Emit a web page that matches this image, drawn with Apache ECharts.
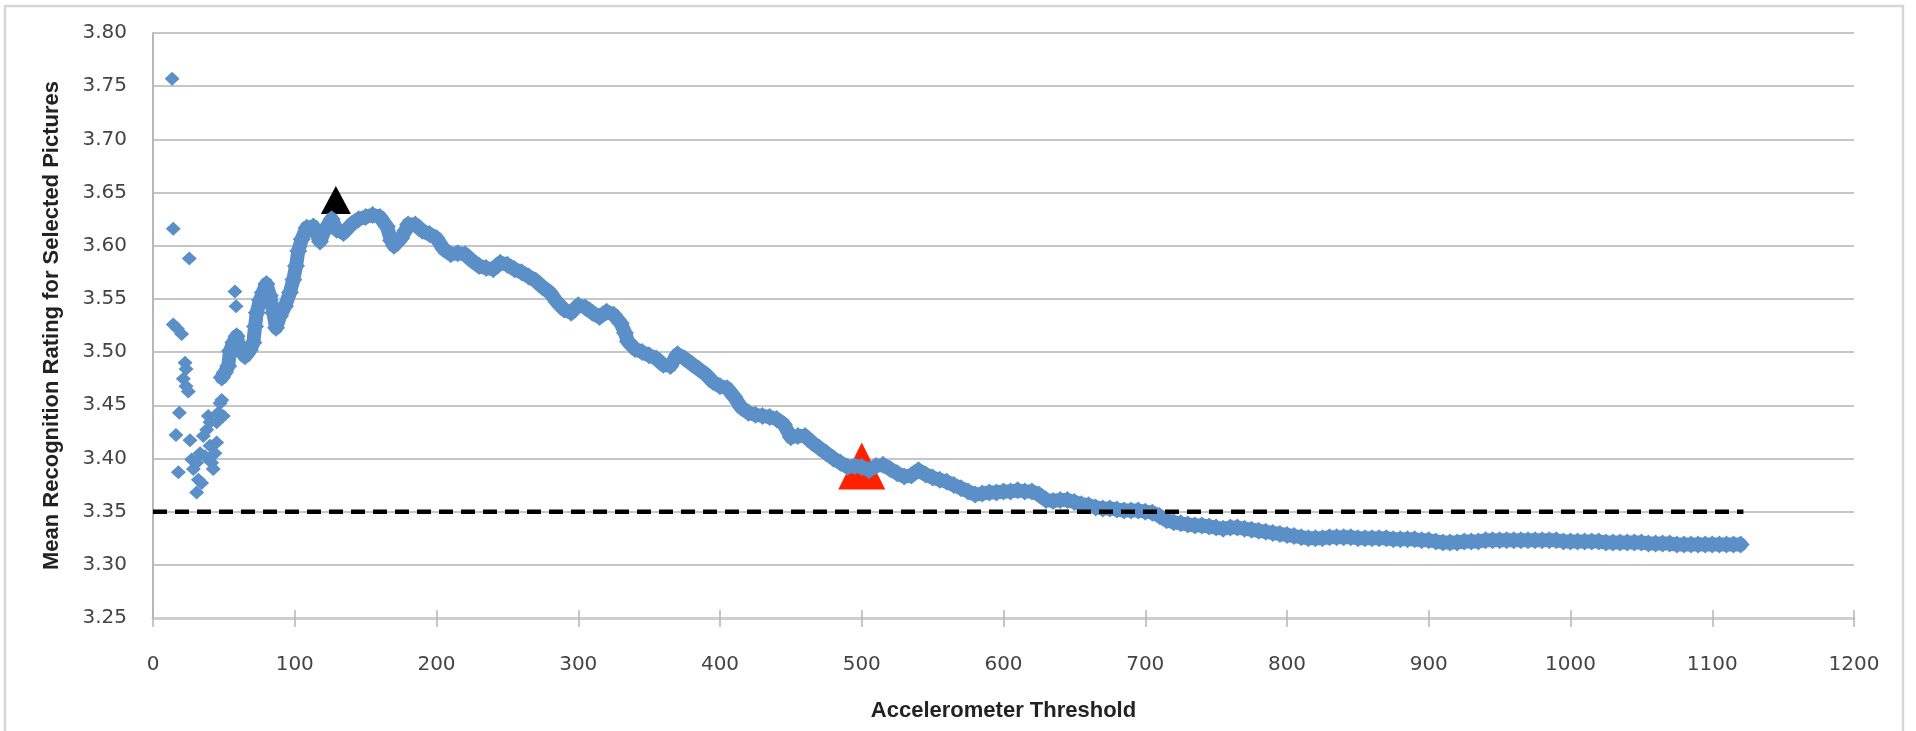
<!DOCTYPE html>
<html>
<head>
<meta charset="UTF-8">
<title>Mean Recognition Rating vs Accelerometer Threshold</title>
<script src="https://cdn.jsdelivr.net/npm/echarts@6/dist/echarts.min.js"></script>
<style>
html, body {
    margin: 0;
    padding: 0;
    background: #fff;
}
#chart {
    width: 1916px;
    height: 731px;
}
</style>
</head>
<body>
<div id="chart"></div>
<script>
// axis ranges
var xMin = 0, xMax = 1200, xStep = 100;
var yMin = 3.25, yMax = 3.80, yStep = 0.05;

// scattered early thresholds
var earlyX = [13.5, 14.3, 14.3, 16.2, 17.2, 17.9, 18.6, 20.2, 21.4, 22.6, 23.3, 23.3, 24.9, 25.6,
    26.1, 27.3, 28.5, 30.8, 30.8, 32.0, 33.2, 34.3, 35.5, 36.7, 37.9, 39.0, 40.2, 40.2,
    41.4, 42.5, 43.7, 44.9, 44.9, 46.1, 47.3, 48.5, 49.6, 57.8, 58.6];
var earlyY = [3.757, 3.616, 3.526, 3.422, 3.522, 3.387, 3.443, 3.517, 3.475, 3.490, 3.484, 3.468, 3.463, 3.588,
    3.417, 3.399, 3.390, 3.396, 3.368, 3.380, 3.405, 3.377, 3.421, 3.402, 3.427, 3.440, 3.412, 3.434,
    3.396, 3.390, 3.405, 3.415, 3.434, 3.443, 3.452, 3.455, 3.440, 3.557, 3.543];

// main band
var bandX = [48.5, 50.8, 53.1, 54.3, 56.7, 59.0, 61.4, 64.9, 68.4, 70.8, 72.0, 73.2, 75.5, 77.5, 80.0,
    82.5, 84.9, 86.8, 89.6, 93.1, 96.6, 99.0, 100.9, 102.5, 104.9, 108.4, 113.1, 117.8, 121.3, 126.0,
    129.6, 134.3, 140, 145, 150, 155, 160, 165, 168, 170, 175, 178, 180, 185, 190, 195,
    200, 205, 210, 215, 220, 225, 230, 235, 240, 245, 250, 255, 260, 265, 270, 275, 280, 285, 290, 295,
    300, 305, 310, 315, 320, 325, 330, 333, 335, 340, 345, 350, 355, 360, 365, 370, 375, 380, 385, 390, 395,
    400, 405, 410, 415, 420, 425, 430, 435, 440, 445, 450, 455, 460, 465, 470, 475, 480, 485, 490, 495,
    500, 505, 510, 515, 520, 525, 530, 535, 540, 545, 550, 555, 560, 565, 570, 575, 580, 585, 590, 595,
    600, 605, 610, 615, 620, 625, 630, 635, 640, 645, 650, 655, 660, 665, 670, 675, 680, 685, 690, 695,
    700, 705, 710, 715, 720, 725, 730, 735, 740, 745, 750, 755, 760, 765, 770, 775, 780, 785, 790, 795,
    800, 805, 810, 815, 820, 825, 830, 835, 840, 845, 850, 855, 860, 865, 870, 875, 880, 885, 890, 895,
    900, 905, 910, 915, 920, 925, 930, 935, 940, 945, 950, 955, 960, 965, 970, 975, 980, 985, 990, 995,
    1000, 1005, 1010, 1015, 1020, 1025, 1030, 1035, 1040, 1045, 1050, 1055, 1060, 1065, 1070, 1075,
    1080, 1085, 1090, 1095, 1100, 1105, 1110, 1115, 1120];
var bandY = [3.476, 3.481, 3.487, 3.501, 3.509, 3.515, 3.502, 3.496, 3.502, 3.509, 3.524, 3.537, 3.549, 3.556, 3.564,
    3.553, 3.537, 3.523, 3.534, 3.543, 3.556, 3.568, 3.581, 3.595, 3.606, 3.617, 3.618, 3.604, 3.615, 3.625,
    3.615, 3.612, 3.620, 3.625, 3.627, 3.629, 3.627, 3.618, 3.605, 3.600, 3.607, 3.614, 3.620, 3.620, 3.614, 3.611,
    3.607, 3.597, 3.592, 3.593, 3.592, 3.586, 3.581, 3.579, 3.578, 3.584, 3.582, 3.578, 3.575, 3.571, 3.567, 3.561, 3.556, 3.547, 3.540, 3.537,
    3.544, 3.542, 3.537, 3.533, 3.538, 3.535, 3.527, 3.518, 3.510, 3.503, 3.500, 3.497, 3.494, 3.488, 3.487, 3.498, 3.494, 3.489, 3.484, 3.479, 3.472,
    3.468, 3.466, 3.458, 3.448, 3.443, 3.441, 3.440, 3.439, 3.437, 3.432, 3.420, 3.421, 3.421, 3.415, 3.410, 3.405, 3.400, 3.396, 3.392, 3.393,
    3.392, 3.389, 3.393, 3.394, 3.390, 3.386, 3.383, 3.384, 3.389, 3.385, 3.382, 3.380, 3.378, 3.375, 3.372, 3.369, 3.366, 3.367, 3.368, 3.368,
    3.369, 3.369, 3.370, 3.369, 3.369, 3.366, 3.361, 3.360, 3.361, 3.361, 3.359, 3.357, 3.356, 3.354, 3.353, 3.353, 3.352, 3.351, 3.351, 3.351,
    3.350, 3.349, 3.346, 3.342, 3.340, 3.339, 3.338, 3.337, 3.337, 3.336, 3.335, 3.334, 3.335, 3.335, 3.334, 3.333, 3.332, 3.331, 3.330, 3.329,
    3.328, 3.327, 3.326, 3.325, 3.325, 3.325, 3.326, 3.326, 3.326, 3.326, 3.325, 3.325, 3.325, 3.325, 3.325, 3.324, 3.324, 3.324, 3.324, 3.323,
    3.323, 3.322, 3.321, 3.321, 3.321, 3.322, 3.322, 3.322, 3.323, 3.323, 3.323, 3.323, 3.323, 3.323, 3.323, 3.323, 3.323, 3.323, 3.323, 3.322,
    3.322, 3.322, 3.322, 3.322, 3.322, 3.321, 3.321, 3.321, 3.321, 3.321, 3.321, 3.320, 3.320, 3.320, 3.320, 3.319,
    3.319, 3.319, 3.319, 3.319, 3.319, 3.319, 3.319, 3.319, 3.319];

// highlighted thresholds
var peakPoint = [129, 3.643];
var chosenPoint = [500, 3.393];

// dashed reference level
var refX = [0, 1122];
var refY = 3.35;

function pairs(xs, ys) {
    var out = [];
    for (var i = 0; i < xs.length; i++) {
        out.push([xs[i], ys[i]]);
    }
    return out;
}

var chart = echarts.init(document.getElementById('chart'));

var blue = '#5b8fc7';
var labelFont = 'DejaVu Sans';
var titleFont = 'Liberation Sans';

chart.setOption({
    animation: false,
    backgroundColor: '#fff',
    graphic: [{
        type: 'rect',
        shape: { x: 5, y: 6, width: 1898, height: 800 },
        style: { fill: 'none', stroke: '#d6d6d6', lineWidth: 2.5 },
        silent: true,
        z: -10
    }],
    grid: {
        left: 153,
        right: 62,
        top: 33,
        bottom: 113
    },
    xAxis: [{
        type: 'value',
        min: xMin,
        max: xMax,
        interval: xStep,
        name: 'Accelerometer Threshold',
        nameLocation: 'middle',
        nameGap: 82,
        nameTextStyle: { fontFamily: titleFont, fontWeight: 'bold', fontSize: 22, color: '#222' },
        axisLine: { lineStyle: { color: '#cfcfcf', width: 3 } },
        axisTick: { length: 9, lineStyle: { color: '#b5b5b5', width: 1.5 } },
        axisLabel: {
            margin: 37,
            fontFamily: labelFont,
            fontSize: 20,
            color: '#444',
            formatter: function (v) { return String(v); }
        },
        splitLine: { show: false }
    }, {
        type: 'value',
        min: xMin,
        max: xMax,
        interval: xStep,
        position: 'bottom',
        axisLine: { show: false },
        axisTick: { inside: true, length: 8, lineStyle: { color: '#b5b5b5', width: 1.5 } },
        axisLabel: { show: false },
        splitLine: { show: false }
    }],
    yAxis: {
        type: 'value',
        min: yMin,
        max: yMax,
        interval: yStep,
        name: 'Mean Recognition Rating for Selected Pictures',
        nameLocation: 'middle',
        nameGap: 90,
        nameTextStyle: { fontFamily: titleFont, fontWeight: 'bold', fontSize: 22, color: '#222' },
        axisLine: { show: true, lineStyle: { color: '#b8b8b8', width: 2 } },
        axisTick: { show: false },
        axisLabel: {
            margin: 26,
            fontFamily: labelFont,
            fontSize: 20,
            color: '#444',
            padding: [8, 0, 0, 0],
            formatter: function (v) { return v.toFixed(2); }
        },
        splitLine: { lineStyle: { color: '#c6c6c6', width: 2 } }
    },
    series: [{
        type: 'scatter',
        symbol: 'triangle',
        symbolSize: [30, 28],
        itemStyle: { color: '#000', opacity: 1 },
        data: [peakPoint]
    }, {
        type: 'scatter',
        symbol: 'triangle',
        symbolSize: [47, 47],
        itemStyle: { color: '#ff2200', opacity: 1 },
        data: [chosenPoint]
    }, {
        type: 'scatter',
        symbol: 'diamond',
        symbolSize: [15, 14],
        itemStyle: { color: blue, opacity: 1 },
        data: pairs(earlyX, earlyY)
    }, {
        // body of the dense band, drawn through the same points
        type: 'line',
        symbol: 'none',
        lineStyle: { color: blue, width: 14, join: 'round', cap: 'round' },
        data: pairs(bandX, bandY)
    }, {
        type: 'scatter',
        symbol: 'diamond',
        symbolSize: [18, 18],
        itemStyle: { color: blue, opacity: 1 },
        data: pairs(bandX, bandY)
    }, {
        type: 'line',
        symbol: 'none',
        lineStyle: { color: '#000', width: 4.5, type: [14, 8] },
        data: [[refX[0], refY], [refX[1], refY]]
    }]
});
</script>
</body>
</html>
